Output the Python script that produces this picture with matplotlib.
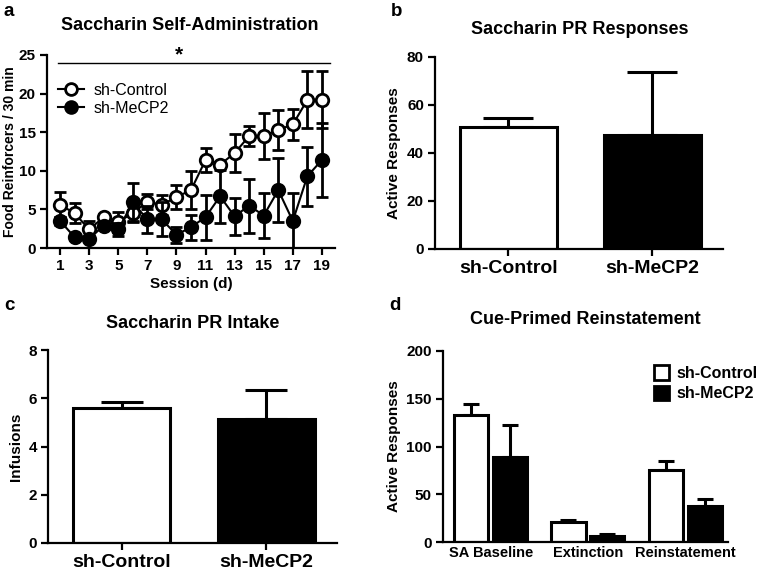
import numpy as np
import matplotlib
matplotlib.use('Agg')
import matplotlib.pyplot as plt
from matplotlib.patches import Patch
from matplotlib.lines import Line2D

plt.rcParams['font.family'] = ['Liberation Sans', 'DejaVu Sans']
plt.rcParams['font.weight'] = 'bold'
plt.rcParams['axes.labelweight'] = 'bold'
plt.rcParams['axes.linewidth'] = 1.6

# panel a: saccharin self-administration
sessions = np.arange(1, 20)
ctrl_mean = [5.6, 4.5, 2.4, 4.0, 3.4, 4.5, 6.0, 5.6, 6.6, 7.5, 11.4, 10.8, 12.3, 14.5, 14.5, 15.3, 16.0, 19.2, 19.2]
ctrl_sem = [1.6, 1.3, 1.1, 0.4, 1.3, 1.0, 1.0, 1.3, 1.5, 2.5, 1.6, 0.3, 2.5, 1.3, 3.0, 2.6, 2.0, 3.7, 3.7]
mecp_mean = [3.5, 1.4, 1.2, 2.9, 2.4, 5.9, 3.7, 3.7, 1.7, 2.7, 4.0, 6.7, 4.1, 5.5, 4.2, 7.5, 3.5, 9.3, 11.4]
mecp_sem = [0.5, 0.3, 0.3, 0.4, 0.8, 2.5, 1.8, 2.2, 1.0, 1.6, 2.9, 3.4, 2.4, 3.5, 2.9, 4.1, 3.6, 3.8, 4.8]
odd_ticks = np.arange(1, 20, 2)

# panel b / c: PR responses and intake
groups = ['sh-Control', 'sh-MeCP2']
pr_resp = [50.7, 47.6]
pr_resp_sem = [3.8, 26.0]
pr_intake = [5.6, 5.12]
pr_intake_sem = [0.23, 1.22]

# panel d: cue-primed reinstatement
phases = ['SA Baseline', 'Extinction', 'Reinstatement']
rein_ctrl = [133.5, 20.6, 74.9]
rein_ctrl_sem = [11.0, 2.0, 9.5]
rein_mecp = [88.5, 6.6, 38.0]
rein_mecp_sem = [34.0, 1.8, 7.0]

fig = plt.figure(figsize=(7.65, 5.7), dpi=100)
W, H = 765.0, 570.0

def axes_px(left, right, bottom, top):
    return fig.add_axes([left / W, 1 - bottom / H, (right - left) / W, (bottom - top) / H])

def style(ax):
    for s in ['top', 'right']:
        ax.spines[s].set_visible(False)
    ax.tick_params(width=1.6, length=5, labelsize=11, pad=3)
    for lab in ax.get_xticklabels() + ax.get_yticklabels():
        lab.set_fontweight('bold')

def title(x, y, s):
    fig.text(x / W, 1 - y / H, s, ha='center', va='center', fontsize=13, fontweight='bold')

def panel_label(x, y, s):
    fig.text(x / W, 1 - y / H, s, ha='left', va='center', fontsize=13.5, fontweight='bold')

# ---- a ----
ax = axes_px(47, 335, 248, 55)
ax.errorbar(sessions, ctrl_mean, yerr=ctrl_sem, fmt='-o', color='black', mfc='white',
            mec='black', mew=2, ms=9, lw=1.5, elinewidth=2, capsize=4.5, capthick=2,
            label='sh-Control', zorder=3)
ax.errorbar(sessions, mecp_mean, yerr=mecp_sem, fmt='-o', color='black', mfc='black',
            mec='black', mew=2, ms=9, lw=1.5, elinewidth=2, capsize=4.5, capthick=2,
            label='sh-MeCP2', zorder=4)
ax.set_xlim(0.1, 19.9)
ax.set_ylim(0, 25)
ax.set_xticks(odd_ticks)
ax.set_yticks([0, 5, 10, 15, 20, 25])
ax.plot([0.86, 19.55], [24, 24], color='black', lw=1.0, clip_on=False)
ax.text(9.2, 25.0, '*', ha='center', va='center', fontsize=15, fontweight='bold')
ax.set_xlabel('Session (d)', fontsize=11, labelpad=3)
ax.set_ylabel('Food Reinforcers / 30 min', fontsize=10, labelpad=1)
style(ax)
handles = [Line2D([], [], color='black', marker='o', mfc='white', mec='black', mew=2, ms=8.5, lw=1.5),
           Line2D([], [], color='black', marker='o', mfc='black', mec='black', mew=2, ms=8.5, lw=1.5)]
ax.legend(handles, ['sh-Control', 'sh-MeCP2'], loc='upper left', bbox_to_anchor=(-0.01, 0.93),
          frameon=False, handlelength=1.6, handletextpad=0.6, labelspacing=0.2,
          prop={'size': 11.5, 'weight': 'normal'})
title(190, 25, 'Saccharin Self-Administration')
panel_label(4, 12, 'a')

# ---- b / c ----
def two_bar(ax, vals, sems, ymax, yticks, ylabel, cap):
    x = np.arange(len(groups))
    ax.errorbar(x, vals, yerr=[np.zeros(len(sems)), sems], fmt='none', ecolor='black',
                elinewidth=2.2, capsize=cap, capthick=2.2, zorder=1)
    ax.bar(x, vals, width=0.67, color=['white', 'black'], edgecolor='black', linewidth=2.2, zorder=2)
    ax.set_xlim(-0.51, 1.49)
    ax.set_ylim(0, ymax)
    ax.set_yticks(yticks)
    ax.set_xticks(x)
    ax.set_xticklabels(groups)
    ax.set_ylabel(ylabel, fontsize=11, labelpad=4)
    style(ax)
    ax.tick_params(axis='x', labelsize=14)

ax = axes_px(435, 723, 249, 57)
two_bar(ax, pr_resp, pr_resp_sem, 80, [0, 20, 40, 60, 80], 'Active Responses', 18)
title(580, 30, 'Saccharin PR Responses')
panel_label(391, 12, 'b')

ax = axes_px(48, 337, 543, 350)
two_bar(ax, pr_intake, pr_intake_sem, 8, [0, 2, 4, 6, 8], 'Infusions', 15)
title(193, 323, 'Saccharin PR Intake')
panel_label(4, 306, 'c')

# ---- d ----
ax = axes_px(443, 728, 542, 351)
x = np.arange(len(phases))
off, bw = 0.2, 0.35
ax.errorbar(x - off, rein_ctrl, yerr=[np.zeros(3), rein_ctrl_sem], fmt='none', ecolor='black',
            elinewidth=2.2, capsize=6, capthick=2.2, zorder=1)
ax.errorbar(x + off, rein_mecp, yerr=[np.zeros(3), rein_mecp_sem], fmt='none', ecolor='black',
            elinewidth=2.2, capsize=6, capthick=2.2, zorder=1)
ax.bar(x - off, rein_ctrl, width=bw, color='white', edgecolor='black', linewidth=2.2, zorder=2)
ax.bar(x + off, rein_mecp, width=bw, color='black', edgecolor='black', linewidth=2.2, zorder=2)
ax.set_xlim(-0.49, 2.44)
ax.set_ylim(0, 200)
ax.set_yticks([0, 50, 100, 150, 200])
ax.set_xticks(x)
ax.set_xticklabels(phases)
ax.set_ylabel('Active Responses', fontsize=11, labelpad=4)
style(ax)
ax.tick_params(axis='x', length=0, labelsize=10.5, pad=3)
leg_handles = [Patch(facecolor='white', edgecolor='black', linewidth=2),
               Patch(facecolor='black', edgecolor='black', linewidth=2)]
fig.legend(leg_handles, ['sh-Control', 'sh-MeCP2'], loc='upper left',
           bbox_to_anchor=(640 / W, 1 - 351 / H), frameon=False, handlelength=0.9,
           handleheight=1.0, handletextpad=0.5, labelspacing=0.3,
           prop={'size': 11.5, 'weight': 'bold'})
title(585, 320, 'Cue-Primed Reinstatement')
panel_label(389, 305, 'd')

fig.savefig('out.png', dpi=100)
